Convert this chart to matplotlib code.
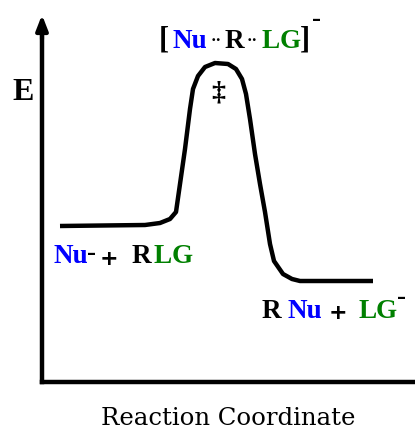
import matplotlib.pyplot as plt

# energy profile (reaction coordinate, energy)
rc = [18, 103, 118, 128, 134, 138, 143, 148, 151, 156, 163, 173, 186, 194, 200, 204,
      208, 213, 218, 223, 228, 232, 241, 250, 258, 331]
energy = [156, 157, 159, 163, 170, 198, 233, 273, 293, 306, 315, 319, 318, 313, 303, 288,
          263, 228, 198, 170, 138, 121, 108, 103, 101, 101]

W, H = 415, 435
fig = plt.figure(figsize=(W / 100, H / 100), dpi=100)
ax = fig.add_axes([42 / W, 1 - 383 / H, (W - 42) / W, (383 - 13) / H])
ax.set_xlim(0, 373)
ax.set_ylim(0, 370)
for s in ["top", "right"]:
    ax.spines[s].set_visible(False)
for s in ["left", "bottom"]:
    ax.spines[s].set_linewidth(3.2)
    ax.spines[s].set_color("black")
ax.spines["left"].set_bounds(0, 345)
ax.set_xticks([])
ax.set_yticks([])
ax.annotate("", xy=(0, 370), xytext=(0, 340),
            arrowprops=dict(arrowstyle="-|>,head_length=0.9,head_width=0.35", lw=3, color="black"),
            annotation_clip=False)

ax.plot(rc, energy, color="black", lw=3.2, solid_joinstyle="round", solid_capstyle="butt", clip_on=False)

blue = "#0000ff"
green = "#008000"
lab = dict(family="Liberation Serif", weight="bold", fontsize=19.5, va="baseline", ha="left")


def put(x, y, s, c="black", **kw):
    d = dict(lab)
    d.update(kw)
    fig.text(x / W, 1 - y / H, s, color=c, **d)


plus = dict(family="DejaVu Sans", fontsize=16)

# transition state
put(159, 48, "[", fontsize=22)
put(172, 48, "Nu", blue)
put(211, 45, "··", fontsize=12)
put(225, 48, "R")
put(247, 45, "··", fontsize=12)
put(262, 48, "L", green)
put(280, 48, "G", green)
put(300, 48, "]", fontsize=22)
put(312, 26, "-")
put(211, 100, "‡", fontsize=20)

# reactants
put(53, 263, "Nu", blue)
put(87, 260, "-")
put(100, 265, "+", **plus)
put(132, 263, "R")
put(153, 263, "L", green)
put(172, 263, "G", green)

# products
put(262, 318, "R")
put(287, 318, "Nu", blue)
put(329, 319, "+", **plus)
put(358, 318, "L", green)
put(376, 318, "G", green)
put(397, 304, "-")

put(12, 100, "E", fontsize=23)
fig.text(228 / W, 1 - 425 / H, "Reaction Coordinate", family="DejaVu Serif",
         fontsize=17.6, ha="center", va="baseline")

fig.savefig("out.png", dpi=100)
